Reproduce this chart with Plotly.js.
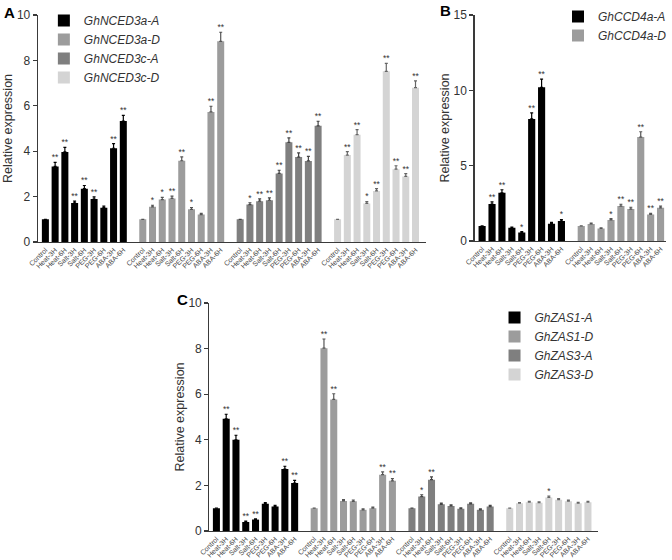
<!DOCTYPE html>
<html><head><meta charset="utf-8">
<script src="https://cdn.plot.ly/plotly-3.0.1.min.js"></script>
<style>body{margin:0;background:#fff}#c{width:672px;height:560px}</style>
</head><body><div id="c"></div>
<script>
const conditions = ['Control','Heat-3H','Heat-6H','Salt-3H','Salt-6H','PEG-3H','PEG-6H','ABA-3H','ABA-6H'];

// Panel A
const seriesA = ['GhNCED3a-A','GhNCED3a-D','GhNCED3c-A','GhNCED3c-D'];
const valsA = [
  [1, 3.33, 3.97, 1.72, 2.35, 1.89, 1.51, 4.13, 5.33],
  [1, 1.55, 1.87, 1.92, 3.58, 1.44, 1.21, 5.73, 8.84],
  [1, 1.65, 1.80, 1.84, 3.02, 4.39, 3.74, 3.57, 5.12],
  [1, 3.83, 4.73, 1.70, 2.25, 7.52, 3.21, 2.89, 6.80]
];
const errA = [
  [0, 0.18, 0.20, 0.08, 0.14, 0.10, 0.07, 0.20, 0.25],
  [0, 0.07, 0.10, 0.10, 0.17, 0.08, 0.05, 0.25, 0.40],
  [0, 0.08, 0.10, 0.10, 0.14, 0.20, 0.19, 0.20, 0.20],
  [0, 0.15, 0.22, 0.08, 0.10, 0.35, 0.15, 0.12, 0.30]
];
const sigA = [
  ['', '**','**','**','**','**','','**','**'],
  ['', '*','*','**','**','*','','**','**'],
  ['', '*','**','**','**','**','**','**','**'],
  ['', '**','**','*','**','**','**','**','**']
];

// Panel B
const seriesB = ['GhCCD4a-A','GhCCD4a-D'];
const valsB = [
  [1, 2.45, 3.2, 0.88, 0.57, 8.1, 10.2, 1.15, 1.32],
  [1, 1.13, 0.83, 1.40, 2.32, 2.12, 6.90, 1.76, 2.20]
];
const errB = [
  [0, 0.15, 0.2, 0.05, 0.05, 0.4, 0.55, 0.08, 0.1],
  [0, 0.05, 0.04, 0.08, 0.12, 0.12, 0.35, 0.08, 0.12]
];
const sigB = [
  ['', '**','**','','*','**','**','','*'],
  ['', '','','*','**','**','**','**','**']
];

// Panel C
const seriesC = ['GhZAS1-A','GhZAS1-D','GhZAS3-A','GhZAS3-D'];
const valsC = [
  [1, 4.92, 4.00, 0.40, 0.50, 1.20, 1.07, 2.72, 2.10],
  [1, 8.02, 5.77, 1.32, 1.30, 0.93, 1.00, 2.47, 2.20],
  [1, 1.51, 2.25, 1.17, 1.10, 0.98, 1.19, 0.93, 1.07],
  [1, 1.22, 1.26, 1.24, 1.47, 1.37, 1.31, 1.22, 1.26]
];
const errC = [
  [0, 0.20, 0.20, 0.03, 0.03, 0.05, 0.05, 0.12, 0.12],
  [0, 0.40, 0.25, 0.06, 0.06, 0.04, 0.05, 0.12, 0.10],
  [0, 0.08, 0.12, 0.05, 0.05, 0.03, 0.05, 0.04, 0.05],
  [0, 0.03, 0.04, 0.04, 0.06, 0.05, 0.05, 0.04, 0.04]
];
const sigC = [
  ['', '**','**','**','**','','','**','**'],
  ['', '**','**','','','','','**','**'],
  ['', '*','**','','','','','',''],
  ['', '','','','*','','','','']
];

const colors = ['#000000','#9c9c9c','#7f7f7f','#d4d4d4'];
const errColors = ['#000000','#555555','#444444','#666666'];
const FONT = 'Liberation Sans, Arial, sans-serif';

const traces = [];
function addPanel(names, vals, errs, sigs, xa, ya, legendId) {
  const tickvals = [], ticktext = [];
  names.forEach((nm, g) => {
    const xs = conditions.map((c, i) => g * 10 + i);
    xs.forEach((x, i) => { tickvals.push(x); ticktext.push(conditions[i]); });
    traces.push({
      type: 'bar', name: nm, x: xs, y: vals[g], xaxis: xa, yaxis: ya,
      width: 0.72, marker: {color: colors[g], line: {width: 0}},
      error_y: {type: 'data', array: errs[g], arrayminus: errs[g].map(() => 0), symmetric: false,
                color: errColors[g], thickness: 1.2, width: 1.5},
      legend: legendId, hoverinfo: 'skip'
    });
    traces.push({
      type: 'scatter', mode: 'text', x: xs, y: vals[g].map((v, i) => v + errs[g][i]),
      text: sigs[g], textposition: 'top center', xaxis: xa, yaxis: ya,
      textfont: {size: 8.5, color: '#333', family: FONT}, showlegend: false,
      cliponaxis: false, hoverinfo: 'skip'
    });
  });
  return {tickvals, ticktext};
}
const tA = addPanel(seriesA, valsA, errA, sigA, 'x', 'y', 'legend');
const tB = addPanel(seriesB, valsB, errB, sigB, 'x2', 'y2', 'legend2');
const tC = addPanel(seriesC, valsC, errC, sigC, 'x3', 'y3', 'legend3');

const W = 672, H = 560;
function xd(a, b) { return [a / W, b / W]; }
function yd(top, bottom) { return [1 - bottom / H, 1 - top / H]; }

function xaxis(t, range, dom, anchor) {
  return {domain: dom, range: range, anchor: anchor, tickvals: t.tickvals, ticktext: t.ticktext,
    tickangle: -45, ticks: '', showgrid: false, zeroline: false, showline: true,
    linecolor: '#3a3a3a', linewidth: 1.2, tickfont: {size: 7, color: '#444', family: FONT}, fixedrange: true};
}
function yaxis(range, dtick, dom, anchor) {
  return {domain: dom, range: range, anchor: anchor, dtick: dtick, tick0: 0, ticks: 'outside', ticklen: 4,
    tickwidth: 1.2, tickcolor: '#3a3a3a', showgrid: false, zeroline: false, showline: true,
    linecolor: '#3a3a3a', linewidth: 1.2, tickfont: {size: 12, color: '#333', family: FONT},
    title: {text: 'Relative expression', font: {size: 12.5, color: '#333', family: FONT}, standoff: 1},
    fixedrange: true};
}
const legFont = {size: 12, color: '#333', family: FONT, style: 'italic'};
const layout = {
  width: W, height: H, margin: {l: 0, r: 0, t: 0, b: 0},
  paper_bgcolor: '#fff', plot_bgcolor: 'rgba(0,0,0,0)',
  barmode: 'overlay', showlegend: true, font: {family: FONT},
  xaxis: xaxis(tA, [-0.77, 39.05], xd(38, 427), 'y'),
  yaxis: yaxis([0, 10], 2, yd(15, 242), 'x'),
  xaxis2: xaxis(tB, [-0.76, 18.55], xd(476, 668), 'y2'),
  yaxis2: yaxis([0, 15], 5, yd(15, 241), 'x2'),
  xaxis3: xaxis(tC, [-0.72, 39.05], xd(210, 600), 'y3'),
  yaxis3: yaxis([0, 10], 2, yd(303, 531), 'x3'),
  legend: {x: 44 / W, y: 1 - 6 / H, xanchor: 'left', yanchor: 'top', font: legFont, tracegroupgap: 0,
           bgcolor: 'rgba(0,0,0,0)', itemwidth: 30},
  legend2: {x: 560 / W, y: 1 - 2 / H, xanchor: 'left', yanchor: 'top', font: legFont,
           bgcolor: 'rgba(0,0,0,0)', itemwidth: 30},
  legend3: {x: 496 / W, y: 1 - 303 / H, xanchor: 'left', yanchor: 'top', font: legFont,
           bgcolor: 'rgba(0,0,0,0)', itemwidth: 30},
  annotations: [
    {text: '<b>A</b>', xref: 'paper', yref: 'paper', x: 2 / W, y: 1 - 2 / H, xanchor: 'left', yanchor: 'top', showarrow: false, font: {size: 15, color: '#000', family: FONT}},
    {text: '<b>B</b>', xref: 'paper', yref: 'paper', x: 439 / W, y: 1 - 0 / H, xanchor: 'left', yanchor: 'top', showarrow: false, font: {size: 15, color: '#000', family: FONT}},
    {text: '<b>C</b>', xref: 'paper', yref: 'paper', x: 176 / W, y: 1 - 289 / H, xanchor: 'left', yanchor: 'top', showarrow: false, font: {size: 15, color: '#000', family: FONT}}
  ]
};
Plotly.newPlot('c', traces, layout, {displayModeBar: false, staticPlot: true});
</script>
</body></html>
